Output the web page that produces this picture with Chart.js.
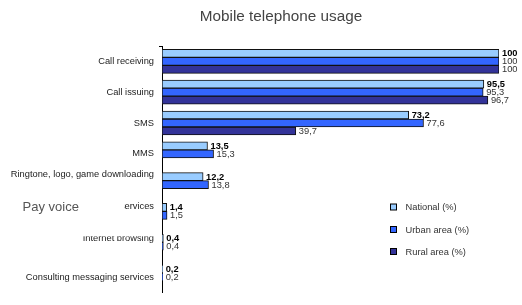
<!DOCTYPE html>
<html><head><meta charset="utf-8">
<script src="https://cdn.jsdelivr.net/npm/chart.js@4/dist/chart.umd.min.js"></script>
<style>html,body{margin:0;padding:0;background:#fff;overflow:hidden}#wrap{position:relative;width:522px;height:306px}</style>
</head><body><div id="wrap"><canvas id="c"></canvas></div>
<script>
const categories = ['Call receiving', 'Call issuing', 'SMS', 'MMS', 'Ringtone, logo, game downloading', 'Pay voice services', 'Internet browsing', 'Consulting messaging services'];
const seriesNames = ['National (%)', 'Urban area (%)', 'Rural area (%)'];
const national = [100, 95.5, 73.2, 13.5, 12.2, 1.4, 0.4, 0.2];
const urban = [100, 95.3, 77.6, 15.3, 13.8, 1.5, 0.4, 0.2];
const rural = [100, 96.7, 39.7, null, null, null, null, null];
const titleText = 'Mobile telephone usage';
const overlayText = 'Pay voice';

const FONT = '"Liberation Sans", Arial, sans-serif';
const colors = ['#99CCFF', '#3366FF', '#333399'];
// label raise (px) for some category labels, styling only
const labelRaise = {4: 9.7, 5: 9.2, 6: 7.7};

const fmt = v => String(v).replace('.', ',');

const decor = {
  id: 'decor',
  afterDatasetsDraw(chart) {
    const ctx = chart.ctx;
    ctx.save();
    ctx.textBaseline = 'middle';
    ctx.textAlign = 'left';
    chart.data.datasets.forEach((ds, di) => {
      const meta = chart.getDatasetMeta(di);
      meta.data.forEach((el, i) => {
        const v = ds.data[i];
        if (v === null || v === undefined) return;
        ctx.font = (di === 0 ? 'bold ' : '') + '9.3px ' + FONT;
        ctx.fillStyle = di === 0 ? '#000' : '#333';
        ctx.fillText(fmt(v), el.x + 3, el.y + 0.5);
      });
    });
    ctx.restore();
  },
  afterDraw(chart) {
    const ctx = chart.ctx;
    ctx.save();
    // title
    ctx.font = '15.3px ' + FONT;
    ctx.fillStyle = '#444';
    ctx.textAlign = 'center';
    ctx.textBaseline = 'alphabetic';
    ctx.fillText(titleText, 281, 20.5);
    // legend
    ctx.font = '9.3px ' + FONT;
    ctx.textAlign = 'left';
    ctx.textBaseline = 'middle';
    const rows = [207, 229.5, 251.5];
    chart.data.datasets.forEach((ds, di) => {
      const y = rows[di];
      ctx.fillStyle = ds.backgroundColor;
      ctx.fillRect(390.5, y - 3, 6, 6);
      ctx.strokeStyle = '#000';
      ctx.lineWidth = 1;
      ctx.strokeRect(390.5, y - 3, 6, 6);
      ctx.fillStyle = '#333';
      ctx.fillText(ds.label, 405.5, y + 0.5);
    });
    // overlay box with "Pay voice"
    const ys = chart.scales.y;
    const py = ys.getPixelForValue(5) - labelRaise[5];
    ctx.fillStyle = '#fff';
    ctx.fillRect(0, py - 7, 124, 15);
    ctx.font = '13px ' + FONT;
    ctx.fillStyle = '#555';
    ctx.textBaseline = 'alphabetic';
    ctx.fillText(overlayText, 22.5, py + 5);
    // clipped top of "Internet browsing"
    const iy = ys.getPixelForValue(6) - labelRaise[6];
    ctx.fillStyle = '#fff';
    ctx.fillRect(0, iy - 8, 158, 5.8);
    // small top tick on the axis
    ctx.strokeStyle = '#000';
    ctx.beginPath();
    ctx.moveTo(159, chart.chartArea.top + 0.5);
    ctx.lineTo(162, chart.chartArea.top + 0.5);
    ctx.stroke();
    ctx.restore();
  }
};

new Chart(document.getElementById('c'), {
  type: 'bar',
  data: {
    labels: categories,
    datasets: [
      {label: seriesNames[0], data: national, backgroundColor: colors[0]},
      {label: seriesNames[1], data: urban, backgroundColor: colors[1]},
      {label: seriesNames[2], data: rural, backgroundColor: colors[2]}
    ]
  },
  options: {
    indexAxis: 'y',
    responsive: true,
    maintainAspectRatio: false,
    animation: false,
    devicePixelRatio: 1,
    datasets: {bar: {barThickness: 8, borderWidth: 1, borderColor: '#111', borderSkipped: false}},
    layout: {padding: {top: 46, right: 23, left: 0, bottom: 0}},
    plugins: {legend: {display: false}, title: {display: false}, tooltip: {enabled: false}},
    scales: {
      x: {type: 'linear', min: 0, max: 100, display: false},
      y: {
        type: 'category',
        grid: {display: false, drawTicks: false},
        border: {display: true, color: '#000', width: 1},
        afterFit(scale) { scale.width = 162; },
        ticks: {
          padding: 8,
          color: '#222',
          autoSkip: false,
          font: (c) => ({family: FONT, size: 9.3, lineHeight: labelRaise[c.index] ? (labelRaise[c.index] * 2) + 'px' : 1.2}),
          callback(value, index) {
            const lab = this.getLabelForValue(value);
            return labelRaise[index] ? [lab, ''] : lab;
          }
        }
      }
    }
  },
  plugins: [decor]
});
</script>
</body></html>
